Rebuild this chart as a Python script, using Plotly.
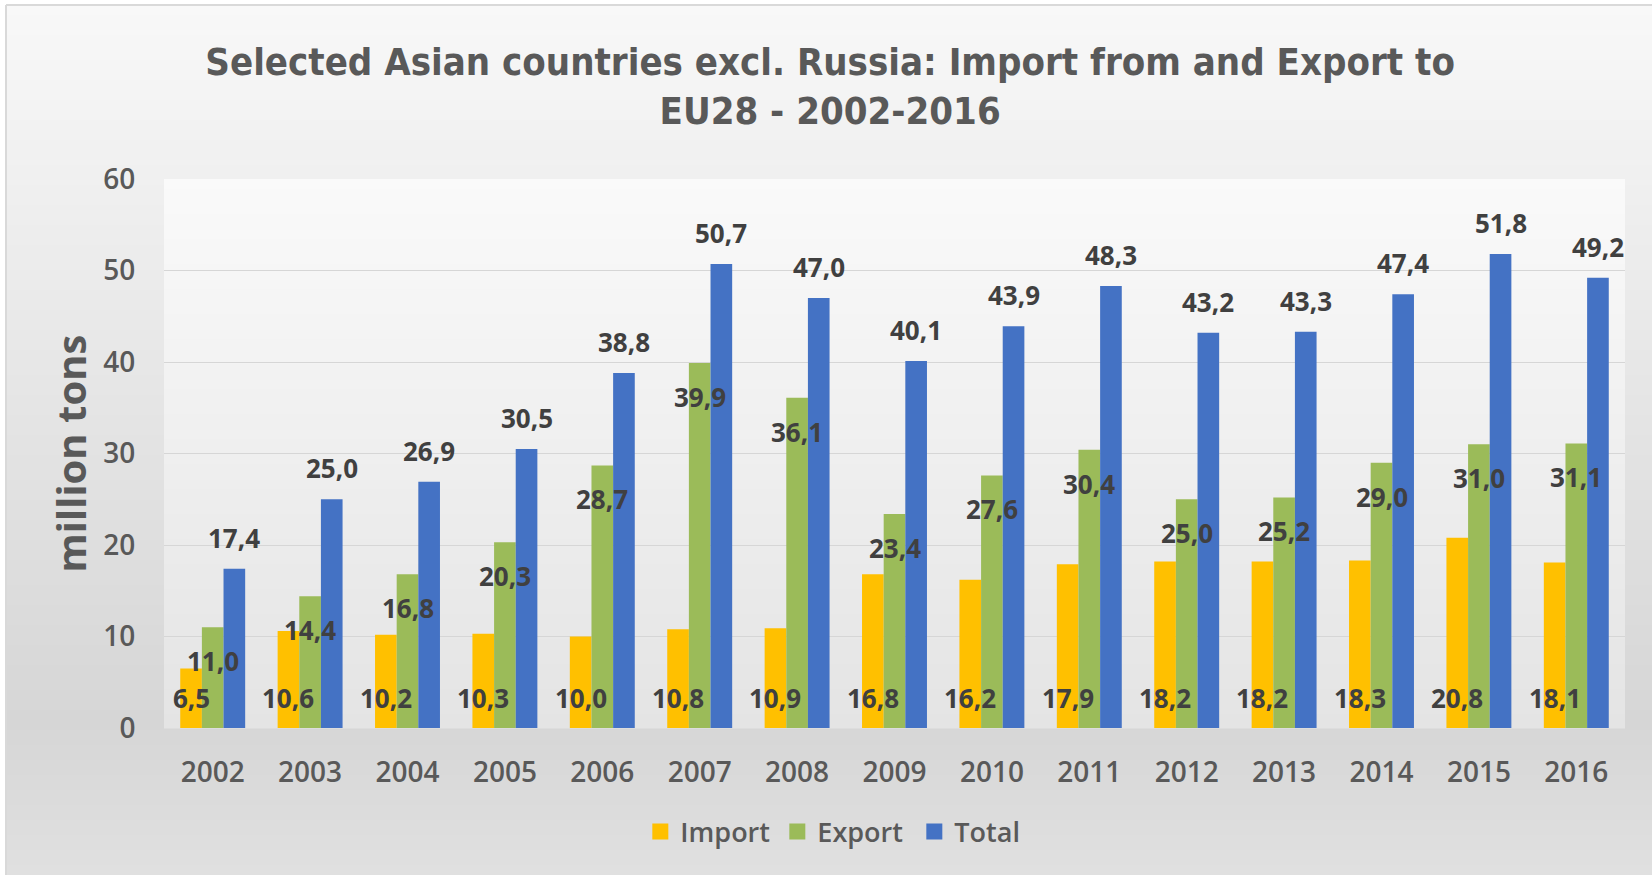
import plotly.graph_objects as go

# ---------------- data ----------------
years = [str(y) for y in range(2002, 2017)]
import_vals = [6.5, 10.6, 10.2, 10.3, 10.0, 10.8, 10.9, 16.8, 16.2, 17.9, 18.2, 18.2, 18.3, 20.8, 18.1]
export_vals = [11.0, 14.4, 16.8, 20.3, 28.7, 39.9, 36.1, 23.4, 27.6, 30.4, 25.0, 25.2, 29.0, 31.0, 31.1]
total_vals = [17.4, 25.0, 26.9, 30.5, 38.8, 50.7, 47.0, 40.1, 43.9, 48.3, 43.2, 43.3, 47.4, 51.8, 49.2]
y_ticks = [0, 10, 20, 30, 40, 50, 60]
series_names = ["Import", "Export", "Total"]

# ---------------- style ----------------
W, H = 1652, 875
ML, MR, MT, MB = 164, 27, 179, 147
PW, PH = W - ML - MR, H - MT - MB
C_IMP, C_EXP, C_TOT = "#FFC000", "#9BBB59", "#4472C4"
TXT = "#595959"
LBL = "#404040"
FONT = "Open Sans, Noto Sans, DejaVu Sans, sans-serif"
TITLE_FONT = "DejaVu Sans Condensed, Liberation Sans Narrow, sans-serif"


def xp(px):
    return (px - ML) / PW


def yp(py):
    return (H - MB - py) / PH


def fmt(v):
    return f"{v:.1f}".replace(".", ",")


def lerp_stops(stops, y):
    for (y0, c0), (y1, c1) in zip(stops, stops[1:]):
        if y0 <= y <= y1:
            t = (y - y0) / (y1 - y0)
            return c0 + (c1 - c0) * t
    return stops[-1][1] if y > stops[-1][0] else stops[0][1]


shapes = []


def gradient(x0, x1, ytop, ybot, stops, step=5):
    y = ytop
    while y < ybot:
        y2 = min(y + step, ybot)
        g = int(round(lerp_stops(stops, (y + y2) / 2)))
        col = f"rgb({g},{g},{g})"
        shapes.append(dict(type="rect", xref="paper", yref="paper",
                           x0=xp(x0), x1=xp(x1), y0=yp(y2 + 0.5), y1=yp(y),
                           fillcolor=col, line=dict(width=0), layer="below"))
        y = y2


# chart area gradient
gradient(6, W, 5, H, [(5, 248), (720, 214), (875, 224)])
# plot area gradient
gradient(ML, ML + PW, MT, MT + PH, [(MT, 250), (MT + PH, 228)])
# chart border (top / left)
shapes.append(dict(type="line", xref="paper", yref="paper", x0=xp(6), x1=xp(W),
                   y0=yp(5), y1=yp(5), line=dict(color="#d9d9d9", width=2), layer="below"))
shapes.append(dict(type="line", xref="paper", yref="paper", x0=xp(6), x1=xp(6),
                   y0=yp(5), y1=yp(H), line=dict(color="#d9d9d9", width=2), layer="below"))

fig = go.Figure()
colors = [C_IMP, C_EXP, C_TOT]
for name, vals, col in zip(series_names, [import_vals, export_vals, total_vals], colors):
    fig.add_trace(go.Bar(x=years, y=vals, name=name, marker=dict(color=col, line=dict(width=0)),
                         hoverinfo="x+y", showlegend=False, legendgroup=name))
# legend entries with larger square swatches
for name, col in zip(series_names, colors):
    fig.add_trace(go.Scatter(x=[None], y=[None], mode="markers", name=name, legendgroup=name,
                             marker=dict(symbol="square", size=16, color=col), hoverinfo="skip"))

# data labels (category index positions on the category axis)
bar_w = PW / len(years) * (2 / 3) / 3
annotations = []
lab_font = dict(family=FONT, size=26, color=LBL, weight="bold")
for i, yr in enumerate(years):
    annotations.append(dict(x=i, y=0, xref="x", yref="y", text=fmt(import_vals[i]), showarrow=False,
                            xshift=-bar_w, yshift=10, yanchor="bottom", font=lab_font))
    annotations.append(dict(x=i, y=export_vals[i], xref="x", yref="y", text=fmt(export_vals[i]),
                            showarrow=False, xshift=0, yshift=-14, yanchor="top", font=lab_font))
    annotations.append(dict(x=i, y=total_vals[i], xref="x", yref="y", text=fmt(total_vals[i]),
                            showarrow=False, xshift=bar_w, yshift=11, yanchor="bottom", font=lab_font))

# y-axis title
annotations.append(dict(x=xp(70), y=0.5, xref="paper", yref="paper", text="million tons", showarrow=False,
                        textangle=-90, xanchor="center", yanchor="middle",
                        font=dict(family=FONT, size=40, color=TXT, weight="bold")))

fig.update_layout(
    width=W, height=H,
    margin=dict(l=ML, r=MR, t=MT, b=MB, autoexpand=False),
    paper_bgcolor="white", plot_bgcolor="rgba(0,0,0,0)",
    barmode="group", bargap=1 / 3, bargroupgap=0,
    title=dict(text="Selected Asian countries excl. Russia: Import from and Export to<br>EU28 - 2002-2016",
               x=0.5025, xref="container", xanchor="center", y=1 - 75 / H, yref="container", yanchor="middle",
               font=dict(family=TITLE_FONT, size=38, color=TXT, weight="bold")),
    xaxis=dict(type="category", range=[-0.5, len(years) - 0.5], showgrid=False, zeroline=False, showline=False,
               ticks="outside", ticklen=19, tickcolor="rgba(0,0,0,0)",
               tickfont=dict(family=FONT, size=28, color=TXT, weight=600)),
    yaxis=dict(range=[0, 60], tickvals=y_ticks, showgrid=True, gridcolor="#d6d6d6", gridwidth=1,
               zeroline=False, showline=False, ticks="outside", ticklen=22, tickcolor="rgba(0,0,0,0)",
               tickfont=dict(family=FONT, size=28, color=TXT, weight=600)),
    legend=dict(orientation="h", x=0.512, xref="container", xanchor="center",
                y=1 - 832 / H, yref="container", yanchor="middle",
                font=dict(family=FONT, size=27, color=TXT, weight=600),
                bgcolor="rgba(0,0,0,0)", traceorder="normal", itemsizing="trace",
                entrywidth=92, entrywidthmode="pixels"),
    shapes=shapes,
    annotations=annotations,
    showlegend=True,
)

fig.write_html("out.html")
